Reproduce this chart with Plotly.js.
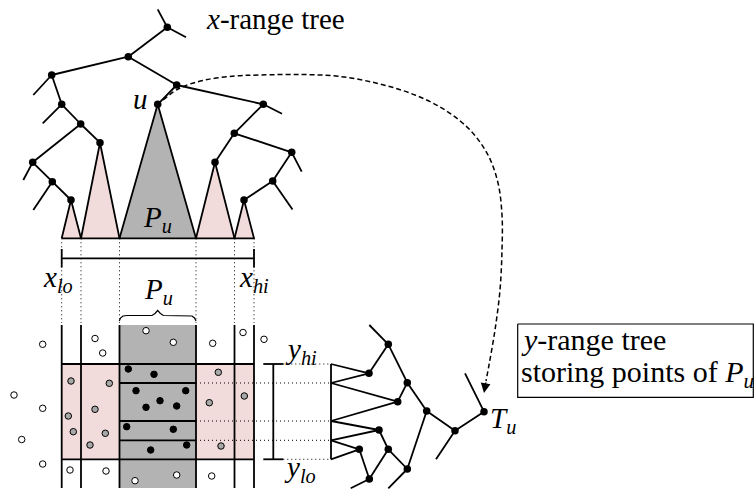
<!DOCTYPE html>
<html><head><meta charset="utf-8">
<script src="https://cdn.plot.ly/plotly-3.0.1.min.js"></script>
<style>html,body{margin:0;padding:0;background:#fff;overflow:hidden}#chart{width:754px;height:491px}</style>
</head><body><div id="chart"></div>
<script>
// ---------------- data (diagram geometry, in picture units) ----------------
// x-range tree nodes
const xNodeNames = ['R','A','B','C','u','D','E','F','G','H','I','J','K','L','M','N','O'];
const xNodeX = [167.3,128.3,51.7,176.7,157.7,263.3,61.7,80.7,32.7,100,52.3,71,234.3,291.7,215,272.7,244];
const xNodeY = [27.3,56.7,75,85,104.3,104.3,104.3,124,162.3,142.7,181.7,200,133.3,152.3,162.3,181,200];
const xEdgeFrom = ['R','A','A','C','C','B','E','F','F','G','I','D','K','K','L','N'];
const xEdgeTo   = ['A','B','C','u','D','E','F','G','H','I','J','K','L','M','N','O'];
const xStubFrom = ['R','R','D','B','E','G','I','L','N'];
const xStubX = [157.7,186,282,33.3,42.7,23.3,33.3,301.7,292.5];
const xStubY = [9.3,37.3,113.7,95,123.3,180,210,171.7,209.5];

// canonical subtrees (triangles) under the x-tree
const triBaseX = [61.7,81,119.5,196,234.5,254];
const triApexX = [71,100,157.7,215,244];
const triApexY = [200,142.7,104.3,162.3,200];
const triKind  = ['pink','pink','gray','pink','pink'];
const triBaseY = 238.3;

// y-range tree nodes
const yNodeNames = ['e','a','f','b','g','c','h','d','j','i','k','T'];
const yNodeX = [388.3,369,407.3,397.7,426.7,379,388.3,359.3,369.3,407.3,455,484];
const yNodeY = [344.3,373.3,382.7,401.7,411,430,449.3,449.3,479,469,430.7,411.7];
const yEdgeFrom = ['e','e','f','f','g','i','h','h','j','g','k'];
const yEdgeTo   = ['a','f','b','g','i','h','c','j','d','k','T'];
const yStubFrom = ['e','j','i','k','T'];
const yStubX = [369.3,350.7,388.3,436,465];
const yStubY = [325,488.3,488.3,459.3,373.3];
const zigLeaves = ['a','b','c','d'];
const zigX = 331;

// horizontal cuts of the y-range (y_hi ... y_lo)
const yCuts = [364,383,421,440.3,459.3];
const gridTop = 325, gridBottom = 488;

// point sets
const openX = [42.7,14,42.7,21.7,42.7,95,102.7,146,173.3,212.7,243,264,70,106,135,176.7,211.7];
const openY = [344.3,395,408.3,439.5,464,338.5,353,330.7,342.3,343.3,332.5,339.3,470,471,480.7,475,476];
const grayX = [71,109.3,95,68.3,73.3,105.3,90,218.3,244.3,209.3,221];
const grayY = [381,383.3,409.3,416,431.7,433.3,445,372.3,396,402.7,446];
const blackX = [128.3,154,136,185.7,160,146,176.7,126.7,173.3,186.7,150.7];
const blackY = [369,374.3,390.7,390.7,400.7,407.3,406,426.7,429.3,445,450];

// dashed link u -> T_u
const linkX = [163,180,205,235,260,300,340,380,415,445,470,488,498,502,502,500,495,489,486];
const linkY = [100,88,80,76,75,74.5,76.5,84,95,110,130,155,183,215,250,290,330,365,381];

// brace over P_u
const braceX = [119.3,120.5,123,127,152,155,157.7,160.4,163.4,188,192,194.6,196];
const braceY = [321,318,316,315.5,315.5,313.5,310.5,313.5,315.5,315.5,316,318,321];

// ---------------- build ----------------
const PINK = '#f2dcdb', GRAY = '#b3b3b3', DOTGRAY = '#a8a8a8';
const LW = 1.8;
const traces = [];
function nodeXY(names, xs, ys, n){ const i = names.indexOf(n); return [xs[i], ys[i]]; }
function segs(list){ const X=[],Y=[]; list.forEach(s=>{X.push(s[0],s[2],null);Y.push(s[1],s[3],null);}); return {X,Y}; }
function lineTrace(X,Y,opt){ return Object.assign({type:'scatter',mode:'lines',x:X,y:Y,hoverinfo:'skip',
  line:{color:'#000',width:LW}},opt||{}); }

// triangles
for (let i=0;i<triApexX.length;i++){
  const X=[triBaseX[i],triApexX[i],triBaseX[i+1],triBaseX[i]];
  const Y=[triBaseY,triApexY[i],triBaseY,triBaseY];
  traces.push(lineTrace(X,Y,{fill:'toself',fillcolor: triKind[i]==='gray'?GRAY:PINK}));
}

// grid fills
const gx = triBaseX;
traces.push(lineTrace([gx[2],gx[3],gx[3],gx[2],gx[2]],[gridTop,gridTop,gridBottom,gridBottom,gridTop],
  {fill:'toself',fillcolor:GRAY,line:{width:0,color:GRAY}}));
traces.push(lineTrace([gx[0],gx[2],gx[2],gx[0],gx[0]],[yCuts[0],yCuts[0],yCuts[4],yCuts[4],yCuts[0]],
  {fill:'toself',fillcolor:PINK,line:{width:0,color:PINK}}));
traces.push(lineTrace([gx[3],gx[5],gx[5],gx[3],gx[3]],[yCuts[0],yCuts[0],yCuts[4],yCuts[4],yCuts[0]],
  {fill:'toself',fillcolor:PINK,line:{width:0,color:PINK}}));

// dotted lines
const dots=[];
gx.forEach(x=>dots.push([x,triBaseY,x,gridTop-2]));
yCuts.forEach((y,i)=>{ const x0 = (i===0||i===4)?283.3:gx[3]; dots.push([x0,y,zigX,y]); });
let d=segs(dots);
traces.push(lineTrace(d.X,d.Y,{line:{color:'#000',width:1,dash:'1px,3px'}}));

// grid solid lines
const sol=[];
gx.forEach(x=>sol.push([x,gridTop,x,gridBottom]));
sol.push([gx[0],yCuts[0],gx[5],yCuts[0]]);
sol.push([gx[0],yCuts[4],gx[5],yCuts[4]]);
[1,2,3].forEach(k=>sol.push([gx[2],yCuts[k],gx[3],yCuts[k]]));
// x-interval
sol.push([gx[0],258.3,gx[5],258.3],[gx[0],249,gx[0],267.5],[gx[5],249,gx[5],267.5]);
// y-interval
sol.push([273.3,yCuts[0],273.3,yCuts[4]],[263.3,yCuts[0],283.3,yCuts[0]],[263.3,yCuts[4],283.3,yCuts[4]]);
d=segs(sol);
traces.push(lineTrace(d.X,d.Y));

// x-tree edges
const xe=[];
xEdgeFrom.forEach((f,i)=>{const a=nodeXY(xNodeNames,xNodeX,xNodeY,f),b=nodeXY(xNodeNames,xNodeX,xNodeY,xEdgeTo[i]);xe.push([a[0],a[1],b[0],b[1]]);});
xStubFrom.forEach((f,i)=>{const a=nodeXY(xNodeNames,xNodeX,xNodeY,f);xe.push([a[0],a[1],xStubX[i],xStubY[i]]);});
// y-tree edges
yEdgeFrom.forEach((f,i)=>{const a=nodeXY(yNodeNames,yNodeX,yNodeY,f),b=nodeXY(yNodeNames,yNodeX,yNodeY,yEdgeTo[i]);xe.push([a[0],a[1],b[0],b[1]]);});
yStubFrom.forEach((f,i)=>{const a=nodeXY(yNodeNames,yNodeX,yNodeY,f);xe.push([a[0],a[1],yStubX[i],yStubY[i]]);});
// zigzag triangles
xe.push([zigX,yCuts[0],zigX,yCuts[4]]);
zigLeaves.forEach((n,i)=>{const a=nodeXY(yNodeNames,yNodeX,yNodeY,n);xe.push([zigX,yCuts[i],a[0],a[1]],[a[0],a[1],zigX,yCuts[i+1]]);});
d=segs(xe);
traces.push(lineTrace(d.X,d.Y));

// brace
traces.push(lineTrace(braceX,braceY,{line:{color:'#000',width:1.2}}));
// dashed link
traces.push(lineTrace(linkX,linkY,{line:{color:'#000',width:1.5,dash:'5px,3px',shape:'spline'}}));
// box
traces.push(lineTrace([517.7,753.3,753.3,517.7,517.7],[324,324,397.3,397.3,324],{line:{color:'#000',width:1.2}}));

// points
function pts(X,Y,fill){ return {type:'scatter',mode:'markers',x:X,y:Y,hoverinfo:'skip',cliponaxis:false,
  marker:{size:6.5,color:fill,line:{color:'#000',width:1}}}; }
traces.push(pts(openX,openY,'#fff'));
traces.push(pts(grayX,grayY,DOTGRAY));
traces.push(pts(blackX,blackY,'#000'));
// tree nodes
traces.push({type:'scatter',mode:'markers',x:xNodeX.concat(yNodeX),y:xNodeY.concat(yNodeY),hoverinfo:'skip',cliponaxis:false,
  marker:{size:7.5,color:'#000'}});

// labels
const F = {family:'Liberation Serif', size:29, color:'#000'};
function lab(text,x,y,xa,size){ return {text:text,x:x,y:y,xref:'x',yref:'y',showarrow:false,xanchor:xa||'left',yanchor:'middle',
  font:Object.assign({},F,size?{size:size}:{})}; }
const annotations = [
  lab('<i>x</i>-range tree',204,19),
  lab('<i>u</i>',131,99),
  lab('<i>P<sub>u</sub></i>',141,219),
  lab('<i>x<sub>lo</sub></i>',41,279),
  lab('<i>P<sub>u</sub></i>',142,291),
  lab('<i>x<sub>hi</sub></i>',237,279),
  lab('<i>y<sub>hi</sub></i>',283,351),
  lab('<i>y<sub>lo</sub></i>',282,469),
  lab('<i>T<sub>u</sub></i>',488,420),
  lab('<i>y</i>-range tree',519,339,'left',30),
  lab('storing points of <i>P<sub>u</sub></i>',519,374,'left',30),
  {x:484,y:393,ax:486,ay:381,xref:'x',yref:'y',axref:'x',ayref:'y',text:'',showarrow:true,
   arrowhead:2,arrowsize:1.3,arrowwidth:1.5,arrowcolor:'#000',standoff:0}
];

const layout = {
  width:754,height:491,margin:{l:0,r:0,t:0,b:0},
  paper_bgcolor:'#fff',plot_bgcolor:'#fff',showlegend:false,
  xaxis:{range:[0,754],visible:false,fixedrange:true},
  yaxis:{range:[491,0],visible:false,fixedrange:true},
  annotations:annotations
};
Plotly.newPlot('chart',traces,layout,{staticPlot:true,displayModeBar:false});
</script></body></html>
